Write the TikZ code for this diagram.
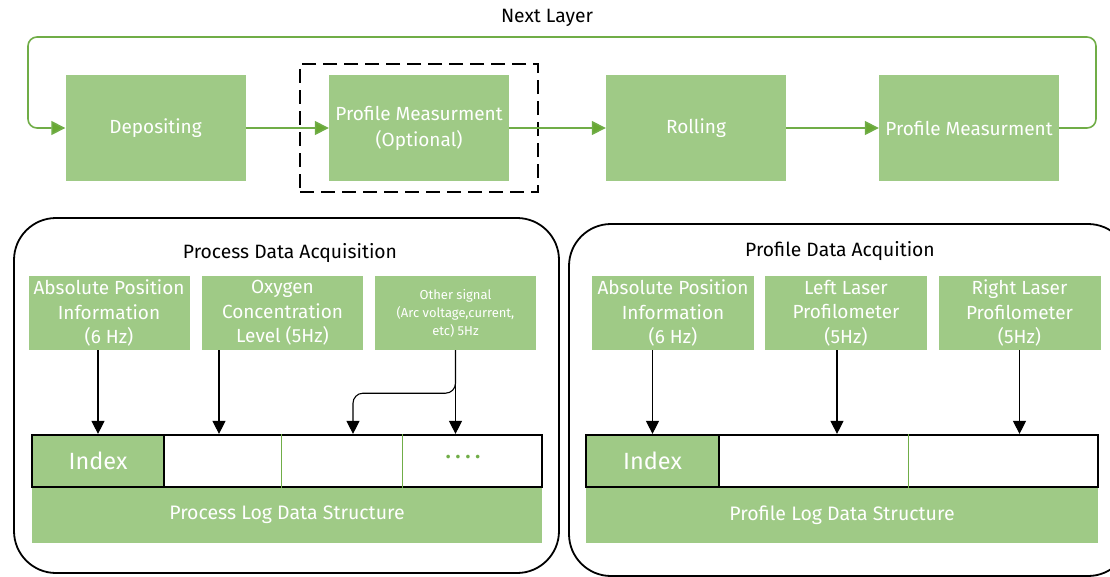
\documentclass[tikz,border=0pt]{standalone}
\usepackage{fontspec}
\setmainfont{Fira Sans}
\usetikzlibrary{arrows.meta}
\definecolor{gfill}{HTML}{9FCA86}
\definecolor{gline}{HTML}{70AD47}
\definecolor{ghead}{HTML}{68A832}
\begin{document}
\begin{tikzpicture}[x=1pt,y=-1pt,
  gbox/.style={fill=gfill, text=white, align=center, inner sep=0pt, font=\fontsize{19}{26}\selectfont},
  srcbox/.style={gbox, minimum width=161pt, minimum height=74pt, font=\fontsize{19}{24.5}\selectfont},
  topbox/.style={gbox, minimum width=180pt, minimum height=106pt},
  panel/.style={draw=black, line width=1.8pt, rounded corners=42pt},
  ttl/.style={text=black, font=\fontsize{19.3}{22}\selectfont, inner sep=0pt},
  gconn/.style={draw=gline, line width=1.6pt, -{Triangle[width=14pt,length=14pt,fill=ghead]}},
  barrow/.style={draw=black, line width=1.1pt, -{Triangle[width=13pt,length=13pt]}},
  cellrow/.style={draw=black, line width=2.2pt, fill=white, minimum height=52pt, inner sep=0pt},
  idxcell/.style={cellrow, fill=gfill, text=white, font=\fontsize{23.5}{26}\selectfont},
  logbar/.style={gbox, minimum height=56pt, font=\fontsize{19.5}{22}\selectfont},
  divider/.style={draw=gline, line width=1pt}
]
\useasboundingbox (0,0) rectangle (1110,576);

% ---- top process row ----
\node[ttl] (nl) at (547,18) {Next Layer};
\node[draw=black, line width=2.8pt, dash pattern=on 14pt off 7pt, minimum width=238pt, minimum height=128pt] (dsh) at (419,128) {};
\node[topbox] (dep) at (155.5,128) {Depositing};
\node[topbox] (pmo) at (419,128) {Profile Measurment\\(Optional)};
\node[topbox] (rol) at (696,128) {Rolling};
\node[topbox] (pm) at (969,128) {Profile Measurment};

\draw[gconn] (dep.east) -- (pmo.west);
\draw[gconn] (pmo.east) -- (rol.west);
\draw[gconn] (rol.east) -- (pm.west);
\draw[gconn, rounded corners=9pt] (pm.east) -- (1096,128) -- (1096,37) -- (28,37) -- (28,128) -- (dep.west);

% ---- panels ----
\node[panel, minimum width=545pt, minimum height=355pt] (lp) at (286.5,395.5) {};
\node[panel, minimum width=561pt, minimum height=352pt] (rp) at (849.5,400) {};
\node[ttl] (lt) at (290,253) {Process Data Acquisition};
\node[ttl] (rt) at (840,251) {Profile Data Acquition};

% ---- left panel ----
\node[srcbox] (abs1) at (109,313) {Absolute Position\\Information\\(6 Hz)};
\node[srcbox] (oxy) at (282.5,313) {Oxygen\\Concentration\\Level (5Hz)};
\node[srcbox, font=\fontsize{13}{18}\selectfont] (oth) at (455.5,313) {Other signal\\(Arc voltage,current,\\etc) 5Hz};

\node[logbar, minimum width=510pt] (logL) at (287,515) {Process Log Data Structure};
\node[cellrow, minimum width=378pt] (rowL) at (353,461) {};
\node[idxcell, minimum width=132pt] (idx1) at (98,461) {Index};
\coordinate (dL1) at (281,461);
\coordinate (dL2) at (402,461);
\draw[divider] (dL1 |- rowL.north) -- (dL1 |- rowL.south);
\draw[divider] (dL2 |- rowL.north) -- (dL2 |- rowL.south);
\node[text=gline, font=\fontsize{20}{20}\selectfont\bfseries] (dots) at (463,457) {.\hspace{5pt}.\hspace{5pt}.\hspace{5pt}.};

\coordinate (ox) at (219,0);
\coordinate (br) at (353,0);
\draw[barrow] (abs1.south -| idx1.north) -- (idx1.north);
\draw[barrow] (oxy.south -| ox) -- (rowL.north -| ox);
\draw[barrow] (oth.south) -- (rowL.north -| oth.south);
\draw[barrow, rounded corners=10pt] (oth.south) -- ([yshift=-43pt]oth.south) -- ([yshift=-43pt]oth.south -| br) -- (rowL.north -| br);

% ---- right panel ----
\node[srcbox, minimum width=162pt] (abs2) at (673,313) {Absolute Position\\Information\\(6 Hz)};
\node[srcbox, minimum width=162pt] (ll) at (846,313) {Left Laser\\Profilometer\\(5Hz)};
\node[srcbox, minimum width=162pt] (rl) at (1019.5,313) {Right Laser\\Profilometer\\(5Hz)};

\node[logbar, minimum width=512pt] (logR) at (842,515) {Profile Log Data Structure};
\node[cellrow, minimum width=379pt] (rowR) at (908.5,461) {};
\node[idxcell, minimum width=133pt] (idx2) at (652.5,461) {Index};
\coordinate (dR1) at (908,461);
\draw[divider] (dR1 |- rowR.north) -- (dR1 |- rowR.south);

\coordinate (lx) at (837,0);
\draw[barrow] (abs2.south -| idx2.north) -- (idx2.north);
\draw[barrow] (ll.south -| lx) -- (rowR.north -| lx);
\draw[barrow] (rl.south) -- (rowR.north -| rl.south);
\end{tikzpicture}
\end{document}
